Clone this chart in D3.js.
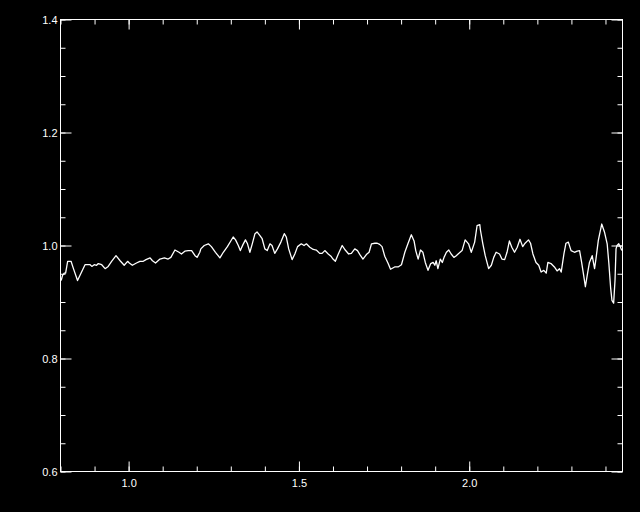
<!DOCTYPE html>
<html>
<head>
<meta charset="utf-8">
<script src="https://cdn.jsdelivr.net/npm/d3@7"></script>
<style>
  html, body { margin: 0; padding: 0; background: #000; }
  svg { display: block; }
  text { font-family: "Liberation Sans", Arial, sans-serif; }
</style>
</head>
<body>
<svg id="chart" width="640" height="512"></svg>
<script>
// ---- data ----
const wavelength = [
  0.802,0.806,0.811,0.815,0.821,0.831,0.838,0.850,0.857,0.872,0.887,0.892,0.899,0.906,0.911,0.921,0.931,0.940,0.950,0.963,
  0.975,0.987,0.997,1.002,1.011,1.023,1.033,1.043,1.051,1.063,1.070,1.079,1.092,1.105,1.116,1.124,1.136,1.148,1.155,1.165,
  1.175,1.185,1.195,1.201,1.209,1.212,1.222,1.234,1.243,1.255,1.268,1.278,1.290,1.300,1.307,1.314,1.322,1.328,1.336,1.343,
  1.349,1.356,1.363,1.371,1.377,1.385,1.392,1.400,1.407,1.415,1.421,1.429,1.437,1.447,1.457,1.463,1.470,1.480,1.488,1.496,
  1.507,1.515,1.522,1.532,1.542,1.551,1.561,1.568,1.576,1.586,1.594,1.600,1.607,1.615,1.627,1.636,1.646,1.654,1.664,1.672,
  1.679,1.688,1.698,1.706,1.713,1.723,1.730,1.737,1.744,1.752,1.762,1.769,1.781,1.791,1.801,1.811,1.820,1.830,1.838,1.843,
  1.850,1.857,1.864,1.871,1.879,1.887,1.894,1.899,1.903,1.908,1.915,1.921,1.926,1.933,1.940,1.947,1.955,1.962,1.969,1.979,
  1.988,1.998,2.006,2.016,2.023,2.031,2.033,2.040,2.047,2.057,2.065,2.072,2.079,2.089,2.096,2.104,2.111,2.118,2.125,2.133,
  2.141,2.149,2.157,2.164,2.174,2.180,2.187,2.196,2.204,2.211,2.219,2.226,2.231,2.240,2.250,2.258,2.265,2.270,2.278,2.284,
  2.291,2.299,2.309,2.317,2.324,2.330,2.336,2.341,2.348,2.353,2.361,2.368,2.372,2.379,2.389,2.397,2.405,2.410,2.415,2.419,
  2.424,2.428,2.431,2.434,2.439,2.444,2.448
];
const flux = [
  0.938,0.947,0.951,0.951,0.972,0.972,0.959,0.938,0.947,0.966,0.966,0.963,0.966,0.965,0.968,0.966,0.959,0.963,0.972,0.982,
  0.973,0.965,0.972,0.969,0.965,0.969,0.972,0.972,0.975,0.978,0.973,0.969,0.976,0.978,0.976,0.979,0.992,0.988,0.985,0.990,
  0.991,0.991,0.982,0.979,0.988,0.994,1.000,1.003,0.998,0.988,0.978,0.988,0.998,1.008,1.015,1.010,1.000,0.991,1.002,1.010,
  1.003,0.988,1.003,1.021,1.024,1.018,1.012,0.994,0.991,1.003,1.000,0.986,0.994,1.006,1.021,1.015,0.994,0.975,0.985,0.998,
  1.003,1.000,1.003,0.997,0.993,0.992,0.986,0.986,0.991,0.985,0.981,0.976,0.972,0.984,1.000,0.992,0.985,0.986,0.994,0.991,
  0.984,0.976,0.984,0.988,1.003,1.004,1.004,1.002,0.998,0.981,0.968,0.958,0.962,0.962,0.966,0.988,1.003,1.019,1.008,0.991,
  0.976,0.992,0.988,0.970,0.956,0.968,0.970,0.965,0.973,0.959,0.976,0.970,0.979,0.988,0.992,0.985,0.979,0.982,0.986,0.991,
  1.010,1.003,0.988,1.006,1.035,1.037,1.027,1.003,0.982,0.959,0.965,0.979,0.988,0.985,0.976,0.975,0.988,1.008,0.997,0.988,
  0.997,1.011,0.998,1.004,1.010,1.004,0.985,0.970,0.965,0.953,0.956,0.951,0.970,0.968,0.962,0.955,0.959,0.953,0.985,1.004,
  1.006,0.991,0.988,0.990,0.991,0.970,0.947,0.927,0.953,0.970,0.982,0.959,0.976,1.009,1.038,1.024,1.003,0.968,0.926,0.903,
  0.898,0.938,0.994,1.000,1.003,0.997,0.991
];
const xMajorTicks = [1.0, 1.5, 2.0];
const xMinorTicks = [0.8,0.9,1.0,1.1,1.2,1.3,1.4,1.5,1.6,1.7,1.8,1.9,2.0,2.1,2.2,2.3,2.4];
const yMajorTicks = [0.6, 0.8, 1.0, 1.2, 1.4];
const yMinorTicks = [0.6,0.65,0.7,0.75,0.8,0.85,0.9,0.95,1.0,1.05,1.1,1.15,1.2,1.25,1.3,1.35,1.4];
const xDomain = [0.8, 2.45];
const yDomain = [0.6, 1.4];

(function () {
  // ---- layout ----
  const svg = d3.select("#chart");
  const pLeft = 60.5, pRight = 622.5, pTop = 19.5, pBottom = 471.5;
  const x = d3.scaleLinear().domain(xDomain).range([pLeft, pRight]);
  const y = d3.scaleLinear().domain(yDomain).range([pBottom, pTop]);

  const fmt = d3.format(".1f");

  function styleAxis(g) {
    g.select(".domain").remove();
    g.selectAll("line").attr("stroke", "#fff").attr("stroke-width", 1);
    g.selectAll("text").attr("fill", "#fff").attr("font-size", 11)
      .attr("font-family", "Liberation Sans, Arial, sans-serif");
  }

  // bottom axis
  svg.append("g").attr("transform", `translate(0,${pBottom})`)
    .call(d3.axisBottom(x).tickValues(xMinorTicks).tickSizeInner(-5).tickSizeOuter(0).tickFormat(""))
    .call(styleAxis);
  svg.append("g").attr("transform", `translate(0,${pBottom})`)
    .call(d3.axisBottom(x).tickValues(xMajorTicks).tickSizeInner(-10).tickSizeOuter(0).tickPadding(8).tickFormat(fmt))
    .call(styleAxis);
  // top axis (ticks only)
  svg.append("g").attr("transform", `translate(0,${pTop})`)
    .call(d3.axisTop(x).tickValues(xMinorTicks).tickSizeInner(-5).tickSizeOuter(0).tickFormat(""))
    .call(styleAxis);
  svg.append("g").attr("transform", `translate(0,${pTop})`)
    .call(d3.axisTop(x).tickValues(xMajorTicks).tickSizeInner(-10).tickSizeOuter(0).tickFormat(""))
    .call(styleAxis);
  // left axis
  svg.append("g").attr("transform", `translate(${pLeft},0)`)
    .call(d3.axisLeft(y).tickValues(yMinorTicks).tickSizeInner(-5).tickSizeOuter(0).tickFormat(""))
    .call(styleAxis);
  svg.append("g").attr("transform", `translate(${pLeft},0)`)
    .call(d3.axisLeft(y).tickValues(yMajorTicks).tickSizeInner(-11).tickSizeOuter(0).tickPadding(3).tickFormat(fmt))
    .call(styleAxis);
  // right axis (ticks only)
  svg.append("g").attr("transform", `translate(${pRight},0)`)
    .call(d3.axisRight(y).tickValues(yMinorTicks).tickSizeInner(-5).tickSizeOuter(0).tickFormat(""))
    .call(styleAxis);
  svg.append("g").attr("transform", `translate(${pRight},0)`)
    .call(d3.axisRight(y).tickValues(yMajorTicks).tickSizeInner(-11).tickSizeOuter(0).tickFormat(""))
    .call(styleAxis);

  // frame
  svg.append("rect")
    .attr("x", pLeft).attr("y", pTop)
    .attr("width", pRight - pLeft).attr("height", pBottom - pTop)
    .attr("fill", "none").attr("stroke", "#fff").attr("stroke-width", 1);

  // data line
  const pts = wavelength.map((w, i) => [w, flux[i]]);
  svg.append("path")
    .datum(pts)
    .attr("fill", "none")
    .attr("stroke", "#fff")
    .attr("stroke-width", 1.3)
    .attr("stroke-linejoin", "round")
    .attr("d", d3.line().x(d => x(d[0])).y(d => y(d[1])));
})();
</script>
</body>
</html>
